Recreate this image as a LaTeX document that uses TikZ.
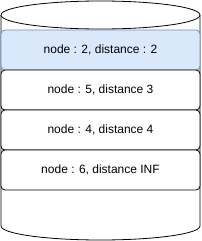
\documentclass[tikz,border=0pt]{standalone}
\usepackage{fontspec}
\setmainfont{Liberation Sans}
\definecolor{bluefill}{HTML}{DAE8FC}
\definecolor{bluestroke}{HTML}{6C8EBF}
\begin{document}
\begin{tikzpicture}[x=1pt,y=-1pt,
  rowbox/.style={draw=black,fill=white,rounded corners=4pt,minimum width=199pt,minimum height=40pt,inner sep=0pt,font=\fontsize{12}{14}\selectfont,line width=0.8pt},
  hlbox/.style={rowbox,draw=bluestroke,fill=bluefill},
  cyl/.style={draw=black,fill=white,line width=0.8pt}]
\useasboundingbox (0,0) rectangle (201,241);
% cylinder
\path[cyl] (1,15) -- (1,226) arc[start angle=180,end angle=360,x radius=99.5pt,y radius=14pt] -- (200,15);
\draw[cyl] (100.5,15) ellipse[x radius=99.5pt,y radius=14pt];
% rows
\node[hlbox] (r1) at (100.5,50) {node : 2, distance : 2};
\node[rowbox] (r2) at (100.5,90) {node : 5, distance 3};
\node[rowbox] (r3) at (100.5,130) {node : 4, distance 4};
\node[rowbox] (r4) at (100.5,170) {node : 6, distance INF};
\end{tikzpicture}
\end{document}
